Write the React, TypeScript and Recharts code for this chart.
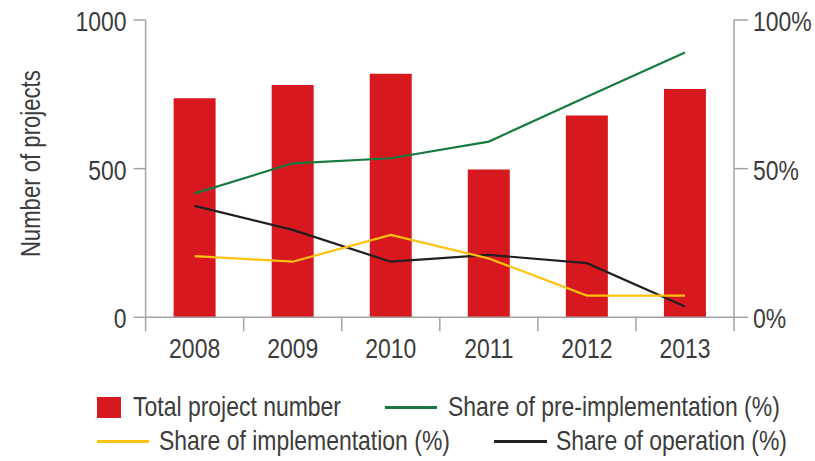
import React from 'react';
import { ComposedChart, Bar, Line, XAxis, YAxis, Legend } from 'recharts';

const years = ['2008', '2009', '2010', '2011', '2012', '2013'];
const totalProjects = [737, 781, 819, 497, 679, 768];
const preImplementation = [41.7, 51.8, 53.5, 59.1, 74.2, 89.1];
const implementation = [20.6, 18.7, 27.7, 19.8, 7.3, 7.3];
const operation = [37.5, 29.4, 18.7, 21.0, 18.2, 3.6];
const leftTicks = [0, 500, 1000];
const rightTicks = [0, 50, 100];

const seriesNames = {
  total: 'Total project number',
  pre: 'Share of pre-implementation (%)',
  impl: 'Share of implementation (%)',
  op: 'Share of operation (%)',
};

const COLORS = {
  total: '#d7181f',
  pre: '#177a40',
  impl: '#ffc20e',
  op: '#231f20',
  axis: '#a3a3a3',
  text: '#3c3c3c',
};

const FONT = '"Liberation Sans", Arial, sans-serif';
const FS = 28;
const SX = 0.82;
const X_TICK_SIZE = 14;
const X_TICK_MARGIN = 6;

const data = years.map((y, i) => ({
  year: y,
  total: totalProjects[i],
  pre: preImplementation[i],
  impl: implementation[i],
  op: operation[i],
}));

const NarrowText = ({ x, y, anchor, children, size = FS, rotate = 0 }: any) => (
  <text
    x={0}
    y={0}
    transform={`translate(${x}, ${y}) rotate(${rotate}) scale(${SX}, 1)`}
    textAnchor={anchor}
    fill={COLORS.text}
    fontSize={size}
    fontFamily={FONT}
  >
    {children}
  </text>
);

const XTick = (props: any) => {
  const { x, y, payload, index, visibleTicksCount } = props;
  const half = payload && typeof payload.offset === 'number' ? payload.offset : 49;
  const axisY = y - X_TICK_SIZE - X_TICK_MARGIN;
  const isLast = index === (visibleTicksCount ?? years.length) - 1;
  return (
    <g>
      <line x1={x - half} x2={x - half} y1={axisY} y2={axisY + X_TICK_SIZE} stroke={COLORS.axis} strokeWidth={1.5} />
      {isLast && (
        <line x1={x + half} x2={x + half} y1={axisY} y2={axisY + X_TICK_SIZE} stroke={COLORS.axis} strokeWidth={1.5} />
      )}
      <NarrowText x={x} y={axisY + 41} anchor="middle">{payload.value}</NarrowText>
    </g>
  );
};

const LeftTick = (props: any) => {
  const { x, y, payload } = props;
  return <NarrowText x={x} y={y + 11} anchor="end">{payload.value}</NarrowText>;
};

const RightTick = (props: any) => {
  const { x, y, payload } = props;
  return <NarrowText x={x} y={y + 11} anchor="start">{`${payload.value}%`}</NarrowText>;
};

const YLabel = (props: any) => {
  const vb = props.viewBox || { x: 0, y: 20, width: 145, height: 297 };
  const cx = 40;
  const cy = vb.y + vb.height / 2 - 5;
  return (
    <NarrowText x={cx} y={cy} anchor="middle" rotate={-90} size={FS - 1}>
      Number of projects
    </NarrowText>
  );
};

const textStyle: React.CSSProperties = {
  position: 'absolute',
  top: 0,
  fontFamily: FONT,
  fontSize: FS,
  lineHeight: '28px',
  color: COLORS.text,
  whiteSpace: 'nowrap',
  transform: `scaleX(${SX})`,
  transformOrigin: 'left center',
};

const LegendContent = () => (
  <div style={{ position: 'relative', width: 815, height: 64 }}>
    <div style={{ position: 'absolute', left: 0, top: 0, width: 815, height: 34 }}>
      <div style={{ position: 'absolute', left: 97, top: 4, width: 24, height: 21, background: COLORS.total }} />
      <span style={{ ...textStyle, left: 133 }}>{seriesNames.total}</span>
      <div style={{ position: 'absolute', left: 385, top: 13, width: 52, height: 3, background: COLORS.pre }} />
      <span style={{ ...textStyle, left: 448 }}>{seriesNames.pre}</span>
    </div>
    <div style={{ position: 'absolute', left: 0, top: 34, width: 815, height: 34 }}>
      <div style={{ position: 'absolute', left: 97, top: 13, width: 52, height: 3, background: COLORS.impl }} />
      <span style={{ ...textStyle, left: 159 }}>{seriesNames.impl}</span>
      <div style={{ position: 'absolute', left: 494, top: 13, width: 53, height: 3, background: COLORS.op }} />
      <span style={{ ...textStyle, left: 556 }}>{seriesNames.op}</span>
    </div>
  </div>
);

export default function App() {
  return (
    <div style={{ position: 'absolute', left: 0, top: 0, width: 815, height: 461, background: '#fff' }}>
      <ComposedChart
        width={815}
        height={461}
        data={data}
        margin={{ top: 20, right: 0, left: 0, bottom: 83.7 }}
      >
        <XAxis
          dataKey="year"
          height={60}
          tickLine={false}
          axisLine={{ stroke: COLORS.axis, strokeWidth: 1.5 }}
          tickSize={X_TICK_SIZE}
          tickMargin={X_TICK_MARGIN}
          tick={<XTick />}
          interval={0}
        />
        <YAxis
          yAxisId="left"
          width={145.6}
          domain={[0, 1000]}
          ticks={leftTicks}
          tickSize={12}
          tickMargin={7}
          axisLine={{ stroke: COLORS.axis, strokeWidth: 1.5 }}
          tickLine={{ stroke: COLORS.axis, strokeWidth: 1.5 }}
          tick={<LeftTick />}
          label={<YLabel />}
        />
        <YAxis
          yAxisId="right"
          orientation="right"
          width={81}
          domain={[0, 100]}
          ticks={rightTicks}
          tickSize={14}
          tickMargin={5}
          axisLine={{ stroke: COLORS.axis, strokeWidth: 1.5 }}
          tickLine={{ stroke: COLORS.axis, strokeWidth: 1.5 }}
          tick={<RightTick />}
        />
        <Legend
          layout="horizontal"
          verticalAlign="middle"
          align="center"
          wrapperStyle={{ top: 393, left: 0, width: 815 }}
          content={<LegendContent />}
        />
        <Bar yAxisId="left" dataKey="total" name={seriesNames.total} fill={COLORS.total} barSize={42} isAnimationActive={false} />
        <Line yAxisId="right" type="linear" dataKey="pre" name={seriesNames.pre} stroke={COLORS.pre} strokeWidth={2.2} dot={false} activeDot={false} isAnimationActive={false} />
        <Line yAxisId="right" type="linear" dataKey="op" name={seriesNames.op} stroke={COLORS.op} strokeWidth={2.2} dot={false} activeDot={false} isAnimationActive={false} />
        <Line yAxisId="right" type="linear" dataKey="impl" name={seriesNames.impl} stroke={COLORS.impl} strokeWidth={2.2} dot={false} activeDot={false} isAnimationActive={false} />
      </ComposedChart>
    </div>
  );
}
